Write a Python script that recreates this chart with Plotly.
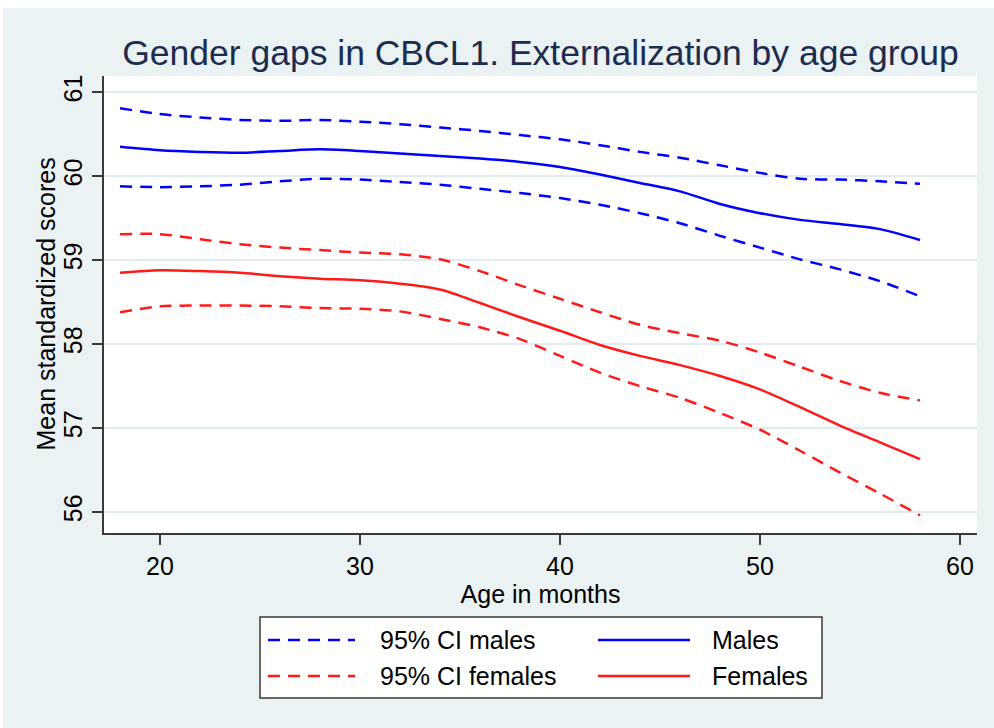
import plotly.graph_objects as go

# Age in months at which the smoothed means and bounds are evaluated
age = [18, 20, 22, 24, 26, 28, 30, 32, 34, 36, 38, 40, 42, 44, 46, 48, 50, 52, 54, 56, 58]

males_upper = [60.81, 60.74, 60.70, 60.67, 60.66, 60.67, 60.65, 60.62, 60.58, 60.54, 60.49,
               60.44, 60.37, 60.29, 60.22, 60.13, 60.04, 59.97, 59.96, 59.94, 59.91]
males_mean = [60.35, 60.31, 60.29, 60.28, 60.30, 60.32, 60.30, 60.27, 60.24, 60.21, 60.17,
              60.11, 60.02, 59.92, 59.82, 59.67, 59.56, 59.48, 59.43, 59.37, 59.24]
males_lower = [59.88, 59.87, 59.88, 59.90, 59.94, 59.97, 59.96, 59.93, 59.90, 59.85, 59.80,
               59.74, 59.66, 59.56, 59.44, 59.29, 59.15, 59.01, 58.89, 58.75, 58.57]

females_upper = [59.31, 59.31, 59.25, 59.19, 59.15, 59.12, 59.09, 59.07, 59.01, 58.87, 58.70,
                 58.54, 58.38, 58.23, 58.13, 58.04, 57.90, 57.73, 57.56, 57.42, 57.33]
females_mean = [58.85, 58.88, 58.87, 58.85, 58.81, 58.78, 58.76, 58.72, 58.65, 58.49, 58.32,
                58.16, 57.99, 57.86, 57.75, 57.62, 57.46, 57.25, 57.03, 56.83, 56.63]
females_lower = [58.38, 58.45, 58.46, 58.46, 58.45, 58.43, 58.42, 58.39, 58.30, 58.20, 58.06,
                 57.86, 57.66, 57.50, 57.36, 57.18, 56.98, 56.73, 56.47, 56.22, 55.96]

x_ticks = [20, 30, 40, 50, 60]
y_ticks = [56, 57, 58, 59, 60, 61]

legend_labels = ["95% CI males", "Males", "95% CI females", "Females"]

# ---- page geometry -------------------------------------------------------
W, H = 994, 728
ML, MR, MT, MB = 104, 17, 76, 195
PW, PH = W - ML - MR, H - MT - MB

BG = "#EAF2F3"
GRID = "#E2EBEE"
AXIS = "#3a3a3a"
BLUE = "#0000FF"
RED = "#FF1A1A"
FONT = "Liberation Sans, Arial, sans-serif"
DASH = "12px,8px"
TXT = 25


def px_x(p):
    return (p - ML) / PW


def px_y(p):
    return (H - MB - p) / PH


fig = go.Figure()

series = [
    (males_upper, BLUE, DASH),
    (males_lower, BLUE, DASH),
    (males_mean, BLUE, "solid"),
    (females_upper, RED, DASH),
    (females_lower, RED, DASH),
    (females_mean, RED, "solid"),
]
for ys, col, dash in series:
    fig.add_trace(go.Scatter(
        x=age, y=ys, mode="lines",
        line=dict(color=col, width=2.5, dash=dash, shape="spline", smoothing=0.8),
        showlegend=False, hoverinfo="skip",
    ))

shapes = []
annotations = []

# white strips along the top and left edges of the page
shapes.append(dict(type="rect", xref="paper", yref="paper", layer="above",
                   x0=px_x(0), x1=px_x(W), y0=px_y(8), y1=px_y(0),
                   fillcolor="white", line=dict(width=0)))
shapes.append(dict(type="rect", xref="paper", yref="paper", layer="above",
                   x0=px_x(0), x1=px_x(3), y0=px_y(H), y1=px_y(0),
                   fillcolor="white", line=dict(width=0)))

# y-axis title, written vertically beside the tick labels
annotations.append(dict(xref="paper", yref="paper", x=px_x(45), y=0.5,
                        text="Mean standardized scores", textangle=-90, showarrow=False,
                        xanchor="center", yanchor="middle",
                        font=dict(family=FONT, size=TXT, color="black")))

# legend frame
shapes.append(dict(type="rect", xref="paper", yref="paper",
                   x0=px_x(260), x1=px_x(822), y0=px_y(698), y1=px_y(617),
                   fillcolor="white", line=dict(color=AXIS, width=1.5)))

legend_rows = [640, 676]
legend_cols = [(268, 355, 378), (598, 690, 710)]
legend_styles = [(BLUE, DASH), (BLUE, "solid"), (RED, DASH), (RED, "solid")]
for i, label in enumerate(legend_labels):
    r, c = divmod(i, 2)
    x0, x1, xt = legend_cols[c]
    yy = legend_rows[r]
    col, dash = legend_styles[i]
    shapes.append(dict(type="line", xref="paper", yref="paper",
                       x0=px_x(x0), x1=px_x(x1), y0=px_y(yy), y1=px_y(yy),
                       line=dict(color=col, width=2.5, dash=dash)))
    annotations.append(dict(xref="paper", yref="paper", x=px_x(xt), y=px_y(yy),
                            text=label, showarrow=False, xanchor="left", yanchor="middle",
                            font=dict(family=FONT, size=TXT, color="black")))

fig.update_layout(
    width=W, height=H,
    margin=dict(l=ML, r=MR, t=MT, b=MB, pad=0),
    paper_bgcolor=BG, plot_bgcolor="white",
    font=dict(family=FONT, color="black"),
    title=dict(text="Gender gaps in CBCL1. Externalization by age group",
               x=0.5, xref="paper", y=1 - 53 / H, yref="container",
               xanchor="center", yanchor="middle",
               font=dict(family=FONT, size=35.5, color="#1C2D4F")),
    xaxis=dict(range=[17.2, 60.85], tickvals=x_ticks, ticks="outside", ticklen=10,
               tickwidth=1.5, tickcolor=AXIS, showline=True, linecolor=AXIS, linewidth=1.5,
               showgrid=False, zeroline=False,
               tickfont=dict(family=FONT, size=TXT, color="black"),
               title=dict(text="Age in months", standoff=0,
                          font=dict(family=FONT, size=TXT, color="black"))),
    yaxis=dict(range=[55.75, 61.194], tickvals=y_ticks, ticks="outside", ticklen=10,
               tickwidth=1.5, tickcolor=AXIS, showline=True, linecolor=AXIS, linewidth=1.5,
               showgrid=True, gridcolor=GRID, gridwidth=1.5, zeroline=False,
               tickangle=-90,
               tickfont=dict(family=FONT, size=TXT, color="black")),
    shapes=shapes,
    annotations=annotations,
)

fig.write_html("out.html")
